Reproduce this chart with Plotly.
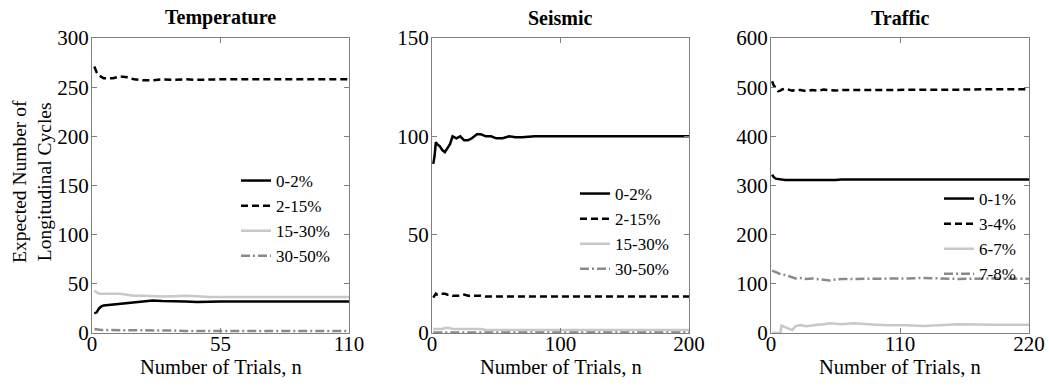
import plotly.graph_objects as go

# ---------------- data ----------------
temp_n = [1, 2, 3, 4, 5, 7, 9, 12, 15, 18, 22, 26, 30, 35, 40, 45, 50, 55, 65, 80, 95, 110]
temp_0_2 = [20, 21, 25, 27, 28, 28.5, 29, 29, 30, 31, 31.5, 33, 32.5, 32.5, 32, 31.5, 32, 32, 32, 32, 32, 32]
temp_2_15 = [271, 265, 262, 260, 259, 259, 259, 261, 260, 258, 257, 257, 258, 257.5, 258, 257.5, 258, 258, 258, 258, 258, 258]
temp_15_30 = [43, 41, 40, 40, 40, 40.5, 40, 40, 39, 38, 38, 37.5, 37, 37.5, 38, 37.5, 36.5, 36.5, 36.5, 36.5, 36.5, 36.5]
temp_30_50 = [4, 3.5, 3.5, 3, 3, 3, 3, 3, 3, 2.5, 2.5, 2.5, 2.5, 2.5, 2, 2, 2, 2, 2, 2, 2, 2]
temp_labels = ["0-2%", "2-15%", "15-30%", "30-50%"]

seis_n = [1, 2, 3, 4, 6, 8, 10, 12, 14, 16, 19, 22, 25, 28, 31, 35, 38, 42, 46, 50, 55, 60, 65, 70, 80, 100, 150, 200]
seis_0_2 = [86, 90, 97, 96, 95, 93, 92, 94, 96, 100, 99, 100, 98, 98, 99, 101, 101, 100, 100, 99, 99, 100, 99.5, 99.5, 100, 100, 100, 100]
seis_2_15 = [18, 19, 20, 19.5, 20, 20, 20, 19.5, 19.5, 19, 19, 19, 19.5, 19, 19, 19, 19, 18.5, 18.5, 18.5, 18.5, 18.5, 18.5, 18.5, 18.5, 18.5, 18.5, 18.5]
seis_15_30 = [2, 2, 2, 2, 2, 2, 2.5, 2.5, 2.5, 2, 2, 2, 2, 2, 2, 2, 2, 1.5, 1.5, 1.5, 1.5, 1.5, 1.5, 1.5, 1.5, 1.5, 1.5, 1.5]
seis_30_50 = [0.3, 0.3, 0.3, 0.3, 0.3, 0.3, 0.3, 0.3, 0.3, 0.3, 0.3, 0.3, 0.3, 0.3, 0.3, 0.3, 0.3, 0.3, 0.3, 0.3, 0.3, 0.3, 0.3, 0.3, 0.3, 0.3, 0.3, 0.3]
seis_labels = ["0-2%", "2-15%", "15-30%", "30-50%"]

traf_n = [1, 2, 4, 6, 8, 9, 12, 15, 18, 21, 25, 30, 35, 40, 45, 50, 55, 60, 70, 80, 90, 100, 115, 130, 145, 160, 190, 220]
traf_0_1 = [322, 318, 314, 313, 312, 312, 311, 311, 311, 311, 310, 310, 310, 311, 311, 311, 311, 312, 312, 312, 312, 312, 312, 312, 312, 312, 312, 312]
traf_3_4 = [512, 505, 498, 492, 493, 495, 497, 495, 493, 494, 494, 492, 494, 493, 495, 494, 493, 494, 494, 495, 495, 495, 495, 494, 495, 495, 496, 496]
traf_6_7 = [0, 0, 0, 0, 0, 15, 12, 9, 6, 14, 16, 14, 16, 17, 18, 20, 19, 18, 20, 18, 17, 16, 16, 14, 16, 18, 17, 17]
traf_7_8 = [127, 126, 124, 122, 120, 119, 118, 116, 114, 111, 112, 110, 111, 110, 108, 107, 109, 110, 110, 110, 111, 110, 111, 112, 111, 110, 111, 110]
traf_labels = ["0-1%", "3-4%", "6-7%", "7-8%"]

titles = ["Temperature", "Seismic", "Traffic"]
x_ranges = [[0, 110], [0, 200], [0, 220]]
x_ticks = [[0, 55, 110], [0, 100, 200], [0, 110, 220]]
y_ranges = [[0, 300], [0, 150], [0, 600]]
y_ticks = [[0, 50, 100, 150, 200, 250, 300], [0, 50, 100, 150], [0, 100, 200, 300, 400, 500, 600]]

# ---------------- styling ----------------
FONT = "Liberation Serif, Times New Roman, serif"
styles = [
    dict(color="black", width=2.5, dash="solid"),
    dict(color="black", width=2.5, dash="7px,4px"),
    dict(color="#c8c8c8", width=2.5, dash="solid"),
    dict(color="#8a8a8a", width=2.5, dash="9px,3px,2px,3px"),
]

W, H = 1049, 386
x_dom_px = [(92, 349), (432, 689), (771, 1029)]
y_dom_px = (38, 333)
legend_pos = [(236, 163), (575, 176), (939, 181)]

fig = go.Figure()

panels = [
    (temp_n, [temp_0_2, temp_2_15, temp_15_30, temp_30_50], temp_labels),
    (seis_n, [seis_0_2, seis_2_15, seis_15_30, seis_30_50], seis_labels),
    (traf_n, [traf_0_1, traf_3_4, traf_6_7, traf_7_8], traf_labels),
]

for i, (xs, series, labels) in enumerate(panels):
    sfx = "" if i == 0 else str(i + 1)
    leg = "legend" if i == 0 else f"legend{i + 1}"
    for ys, lab, st in zip(series, labels, styles):
        fig.add_trace(go.Scatter(
            x=xs, y=ys, mode="lines", name=lab, line=st,
            xaxis="x" + sfx, yaxis="y" + sfx, legend=leg, showlegend=True,
        ))
    x0, x1 = x_dom_px[i]
    axis_common = dict(
        showgrid=False, zeroline=False, showline=True, linecolor="#808080", linewidth=1,
        mirror="allticks", ticks="inside", ticklen=5, tickcolor="#808080",
        tickfont=dict(family=FONT, size=21, color="black"), automargin=False,
    )
    fig.update_layout(**{
        "xaxis" + sfx: dict(
            domain=[x0 / W, x1 / W], range=x_ranges[i], tickvals=x_ticks[i],
            anchor="y" + sfx, ticklabelstandoff=-8, **axis_common,
        ),
        "yaxis" + sfx: dict(
            domain=[1 - y_dom_px[1] / H, 1 - y_dom_px[0] / H], range=y_ranges[i],
            tickvals=y_ticks[i], anchor="x" + sfx, ticklabelstandoff=-2, **axis_common,
        ),
    })
    lx, ly = legend_pos[i]
    fig.update_layout(**{
        leg: dict(
            x=lx / W, y=1 - ly / H, xanchor="left", yanchor="top",
            bgcolor="rgba(0,0,0,0)", borderwidth=0,
            font=dict(family=FONT, size=17, color="black"),
            tracegroupgap=0, itemwidth=30,
        )
    })
    # panel title
    fig.add_annotation(
        text=f"<b>{titles[i]}</b>", x=(x0 + x1) / 2 / W, y=1 - 18 / H,
        xref="paper", yref="paper", showarrow=False,
        xanchor="center", yanchor="middle",
        font=dict(family=FONT, size=20, color="black"),
    )
    # x axis title
    fig.add_annotation(
        text="Number of Trials, n", x=(x0 + x1) / 2 / W, y=1 - 367 / H,
        xref="paper", yref="paper", showarrow=False,
        xanchor="center", yanchor="middle",
        font=dict(family=FONT, size=20.5, color="black"),
    )

fig.add_annotation(
    text="Expected Number of<br>Longitudinal Cycles", x=32 / W, y=1 - 182 / H,
    xref="paper", yref="paper", showarrow=False, textangle=-90,
    xanchor="center", yanchor="middle",
    font=dict(family=FONT, size=19.5, color="black"),
)

fig.update_layout(
    template="none",
    width=W, height=H, margin=dict(l=0, r=0, t=0, b=0, pad=0, autoexpand=False),
    paper_bgcolor="white", plot_bgcolor="white", showlegend=True,
)

fig.write_html("out.html")
